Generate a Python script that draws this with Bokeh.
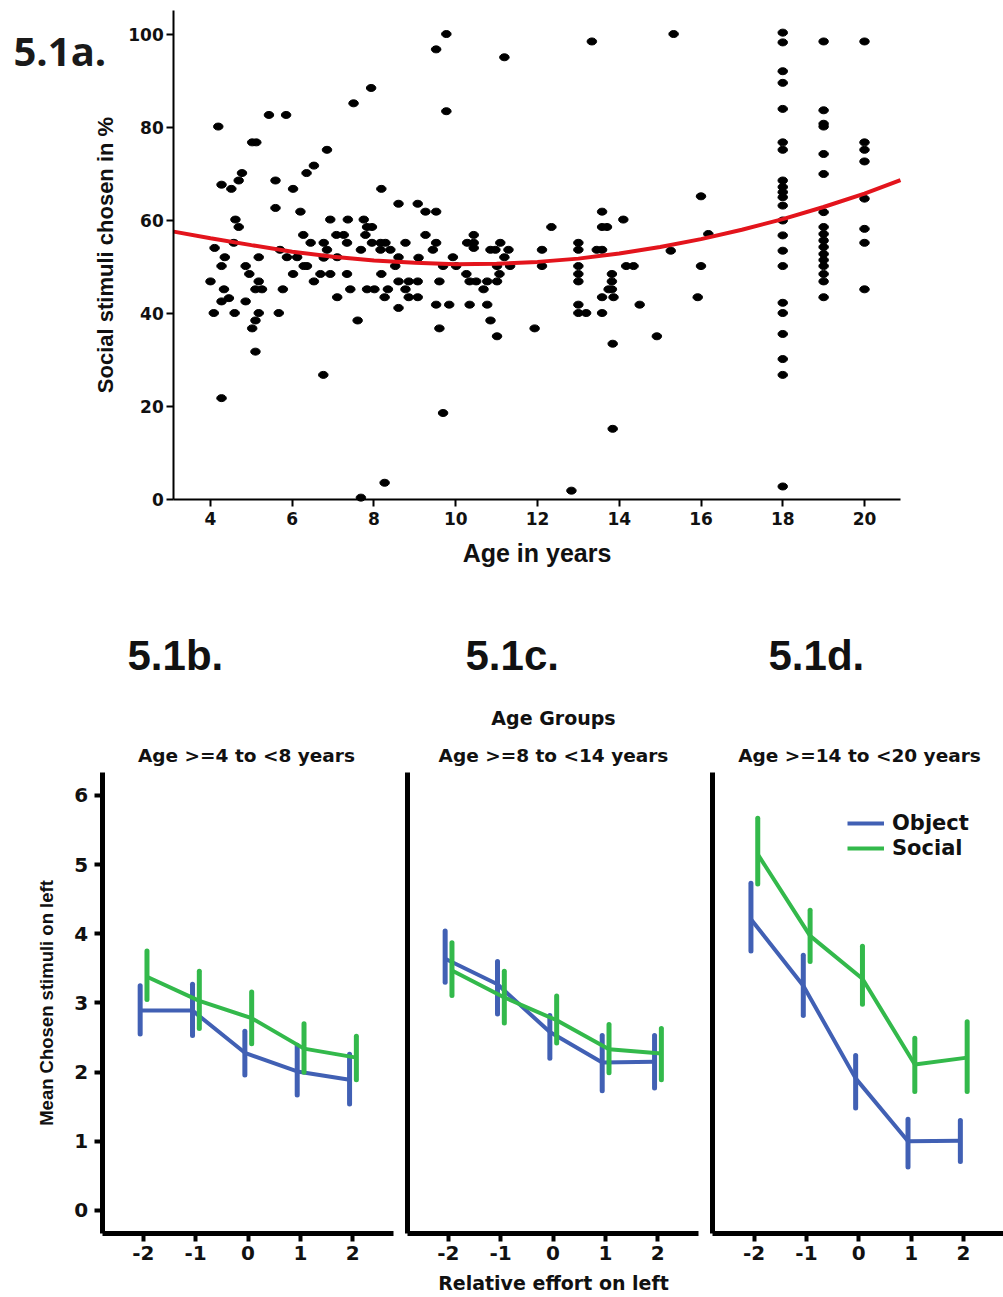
from bokeh.plotting import figure
from bokeh.layouts import column, row
from bokeh.models import Label, Legend, LegendItem, FixedTicker, Range1d
from bokeh.embed import file_html
from bokeh.resources import INLINE

# ---------------- 5.1a scatter data ----------------
age = [4.19, 4.27, 4.51, 4.69, 4.77, 5.02, 5.12, 5.43, 5.85, 5.59, 5.59, 6.02, 6.2, 6.35, 6.53, 6.85,
       7.5, 7.93, 8.18, 8.6, 9.07, 4.61, 4.69, 4.57, 4.1, 4.35, 5.18, 5.7, 6.27, 6.45, 6.93, 6.77,
       6.85, 7.08, 7.26, 7.36, 7.34, 7.75, 7.83, 7.95, 7.79, 7.95, 7.68, 8.16, 8.28, 8.16, 8.4, 8.77,
       8.6, 5.87, 6.12, 7.1,
       4.27, 4.0, 4.33, 4.27, 4.45, 4.08, 4.59, 4.86, 4.95, 4.86, 5.18, 5.1, 5.26, 5.18, 5.1, 5.02,
       5.1, 4.27, 5.67, 5.77, 6.02, 6.28, 6.36, 6.53, 6.69, 6.93, 6.77, 7.1, 6.76, 7.34, 7.42, 7.6,
       7.83, 8.01, 8.18, 8.26, 8.34, 8.52, 8.6, 8.6, 8.77, 8.85, 8.85, 9.07, 9.07, 9.09, 8.26, 7.68,
       9.77, 9.52, 11.19, 13.33, 9.77, 9.26, 9.52, 9.26, 9.52, 9.44, 9.93, 10.44, 10.28, 10.44, 10.44,
       11.09, 10.85, 10.97, 11.29, 11.19, 12.11, 12.34, 13.0, 13.0, 13.45, 13.58, 13.58, 13.58, 13.7, 14.1,
       9.69, 10.01, 9.6, 9.52, 9.84, 9.6, 9.69, 10.26, 10.34, 10.5, 10.34, 10.68, 10.77, 11.01, 11.07,
       11.01, 11.33, 10.77, 10.85, 11.01, 12.11, 11.93, 13.0, 13.0, 13.0, 13.0, 13.0, 13.19, 12.83,
       13.58, 13.58, 13.82, 13.82, 13.82, 13.74, 13.86, 13.84, 13.84, 14.17, 14.35, 14.5,
       15.33, 16.0, 16.18, 15.26, 16.0, 15.92, 14.92,
       18, 18, 18, 18, 18, 18, 18, 18, 18, 18, 18, 18, 18, 18, 18, 18, 18, 18, 18, 18, 18, 18,
       19, 19, 19, 19, 19, 19, 19, 19, 19, 19, 19, 19, 19, 19, 19, 19, 19,
       20, 20, 20, 20, 20, 20, 20, 20]
social_pct = [80.2, 67.7, 66.8, 68.6, 70.2, 76.8, 76.8, 82.7, 82.7, 68.6, 62.7, 66.8, 61.9, 70.2, 71.8, 75.2,
              85.2, 88.5, 66.8, 63.6, 63.6, 60.2, 58.6, 55.2, 54.1, 52.1, 52.1, 53.7, 56.9, 55.2, 60.2, 55.2,
              53.7, 56.9, 56.9, 60.2, 55.2, 60.2, 58.6, 58.6, 56.9, 55.2, 53.7, 55.2, 55.2, 53.7, 53.7, 55.2,
              52.1, 52.1, 52.1, 52.1,
              50.2, 46.9, 45.2, 42.6, 43.3, 40.1, 40.1, 50.2, 48.5, 42.6, 46.9, 45.2, 45.2, 40.1, 38.5, 36.8,
              31.8, 21.8, 40.1, 45.2, 48.5, 50.2, 50.2, 46.9, 48.5, 48.5, 52.0, 43.5, 26.8, 48.5, 45.2, 38.5,
              45.2, 45.2, 48.5, 43.5, 45.2, 50.2, 46.9, 41.2, 45.2, 46.9, 43.5, 46.9, 43.5, 52.0, 3.6, 0.4,
              100.1, 96.8, 95.1, 98.5, 83.5, 61.9, 61.9, 56.9, 55.2, 53.7, 52.1, 56.9, 55.2, 55.2, 54.1,
              55.2, 53.7, 53.7, 53.7, 52.1, 53.7, 58.6, 55.2, 53.7, 53.7, 53.7, 61.9, 58.6, 58.6, 60.2,
              50.2, 50.2, 46.9, 41.9, 41.9, 36.8, 18.6, 48.5, 46.9, 46.9, 41.9, 45.2, 46.9, 46.9, 48.5,
              50.2, 50.2, 41.9, 38.5, 35.1, 50.2, 36.8, 50.2, 48.5, 46.9, 41.9, 40.1, 40.1, 1.9,
              43.5, 40.1, 48.5, 46.9, 45.2, 45.2, 43.5, 33.5, 15.2, 50.2, 50.2, 41.9,
              100.1, 65.2, 57.1, 53.5, 50.2, 43.5, 35.1,
              100.4, 98.3, 92.1, 89.6, 84.0, 76.8, 75.2, 68.6, 67.2, 66.1, 65.0, 63.2, 60.0, 56.8, 53.5, 50.2,
              42.3, 40.1, 35.6, 30.2, 26.8, 2.8,
              98.5, 83.7, 80.8, 80.2, 74.3, 70.0, 61.8, 58.6, 57.1, 55.7, 54.3, 52.8, 51.5, 50.2, 48.5, 46.9, 43.5,
              98.5, 76.8, 75.2, 72.7, 64.7, 58.2, 55.2, 45.2]

# fitted (quadratic) curve
fit_age = [3.1, 4, 5, 6, 7, 8, 9, 10, 11, 12, 13, 14, 15, 16, 17, 18, 19, 20, 20.88]
fit_pct = [57.6, 56.2, 54.7, 53.3, 52.2, 51.4, 50.9, 50.6, 50.7, 51.1, 51.8, 52.9, 54.3, 56.0, 58.0, 60.3, 62.9, 65.8, 68.7]

age_ticks = [4, 6, 8, 10, 12, 14, 16, 18, 20]
pct_ticks = [0, 20, 40, 60, 80, 100]

# ---------------- 5.1b-d panel data ----------------
effort = [-2, -1, 0, 1, 2]
effort_labels = {-2: "-2", -1: "-1", 0: "0", 1: "1", 2: "2"}
mean_ticks = [0, 1, 2, 3, 4, 5, 6]
group_titles = ["Age >=4 to <8 years", "Age >=8 to <14 years", "Age >=14 to <20 years"]
panel_tags = ["5.1b.", "5.1c.", "5.1d."]

obj_mean_a = [2.89, 2.89, 2.28, 2.01, 1.89]
obj_lo_a = [2.55, 2.53, 1.96, 1.67, 1.54]
obj_hi_a = [3.25, 3.27, 2.59, 2.39, 2.26]
soc_mean_a = [3.38, 3.03, 2.78, 2.34, 2.21]
soc_lo_a = [3.05, 2.63, 2.41, 2.00, 1.89]
soc_hi_a = [3.75, 3.46, 3.16, 2.70, 2.52]

obj_mean_b = [3.64, 3.27, 2.58, 2.14, 2.15]
obj_lo_b = [3.30, 2.84, 2.20, 1.73, 1.77]
obj_hi_b = [4.04, 3.60, 2.82, 2.53, 2.53]
soc_mean_b = [3.47, 3.08, 2.75, 2.33, 2.27]
soc_lo_b = [3.11, 2.71, 2.42, 1.99, 1.89]
soc_hi_b = [3.87, 3.46, 3.10, 2.69, 2.63]

obj_mean_c = [4.21, 3.25, 1.91, 1.00, 1.01]
obj_lo_c = [3.75, 2.82, 1.48, 0.63, 0.71]
obj_hi_c = [4.73, 3.69, 2.24, 1.32, 1.30]
soc_mean_c = [5.15, 3.97, 3.35, 2.11, 2.21]
soc_lo_c = [4.72, 3.60, 2.98, 1.72, 1.72]
soc_hi_c = [5.67, 4.34, 3.82, 2.49, 2.73]

BLUE = "#4160b4"
GREEN = "#33b94b"
RED = "#e3141c"
INK = "#111111"

# ---------------- top scatter (frame = whole canvas, axes at fixed locations) ----------------
TOP_W, TOP_H = 1003, 600
top = figure(width=TOP_W, height=TOP_H, x_range=Range1d(-1.1376, 23.4006), y_range=Range1d(-21.72, 107.31),
             output_backend="svg", toolbar_location=None, min_border=0)
top.outline_line_color = None
top.xgrid.visible = False
top.ygrid.visible = False
xa, ya = top.xaxis[0], top.yaxis[0]
xa.fixed_location = 0
xa.bounds = (3.1, 20.88)
ya.fixed_location = 3.1
ya.bounds = (0, 105.2)
xa.ticker = FixedTicker(ticks=age_ticks)
ya.ticker = FixedTicker(ticks=pct_ticks)
for ax in (xa, ya):
    ax.axis_line_width = 2
    ax.axis_line_color = "black"
    ax.major_tick_line_width = 2
    ax.major_tick_out = 7
    ax.major_tick_in = 0
    ax.minor_tick_line_color = None
    ax.major_label_text_font = "DejaVu Sans"
    ax.major_label_text_font_style = "bold"
    ax.major_label_text_font_size = "17px"
    ax.major_label_text_color = INK
    ax.axis_label_text_font = "Liberation Sans"
    ax.axis_label_text_font_style = "bold"
    ax.axis_label_text_color = INK
xa.axis_label = "Age in years"
xa.axis_label_text_font_size = "25px"
xa.major_label_standoff = 5
xa.axis_label_standoff = 11
ya.axis_label = "Social stimuli chosen in %"
ya.axis_label_text_font_size = "22px"
ya.major_label_standoff = 3
ya.axis_label_standoff = 7

top.ellipse(x=age, y=social_pct, width=9.5, height=7, width_units="screen", height_units="screen",
            fill_color="black", line_color="black")
top.line(fit_age, fit_pct, line_color=RED, line_width=4)
top.add_layout(Label(x=13, y=TOP_H - 50, x_units="screen", y_units="screen", text="5.1a.",
                     text_font="Open Sans", text_font_style="bold", text_font_size="40px",
                     text_color="#1a1a1a", text_baseline="middle"))

# ---------------- bottom panels (frame = whole canvas, axes at fixed locations) ----------------
panel_data = [
    (obj_mean_a, obj_lo_a, obj_hi_a, soc_mean_a, soc_lo_a, soc_hi_a),
    (obj_mean_b, obj_lo_b, obj_hi_b, soc_mean_b, soc_lo_b, soc_hi_b),
    (obj_mean_c, obj_lo_c, obj_hi_c, soc_mean_c, soc_lo_c, soc_hi_c),
]
P_H = 697
widths = [400, 305, 298]
x_ranges = [(-4.728, 2.913), (-2.913, 2.913), (-2.928, 2.764)]
x_bounds = [(-2.785, 2.785), (-2.785, 2.785), (-2.785, 2.764)]
Y_LO, Y_HI = -0.3325, 6.332
tag_x = [127, 65, 63]
title_x = [246, 153, 154]

panels = []
for i in range(3):
    om, olo, ohi, sm, slo, shi = panel_data[i]
    p = figure(width=widths[i], height=P_H, x_range=Range1d(*x_ranges[i]), y_range=Range1d(-1.258, 8.819),
               output_backend="svg", toolbar_location=None, min_border=0)
    p.outline_line_color = None
    p.xgrid.visible = False
    p.ygrid.visible = False
    xa, ya = p.xaxis[0], p.yaxis[0]
    xa.fixed_location = Y_LO
    xa.bounds = x_bounds[i]
    ya.fixed_location = x_bounds[i][0]
    ya.bounds = (Y_LO, Y_HI)
    xa.ticker = FixedTicker(ticks=effort)
    xa.major_label_overrides = effort_labels
    for ax in (xa, ya):
        ax.axis_line_width = 5
        ax.axis_line_color = "black"
        ax.major_tick_line_width = 4
        ax.major_tick_out = 8
        ax.major_tick_in = 0
        ax.minor_tick_line_color = None
        ax.major_label_text_font = "DejaVu Sans"
        ax.major_label_text_font_style = "bold"
        ax.major_label_text_font_size = "20px"
        ax.major_label_text_color = INK
    xa.major_label_standoff = 5
    if i == 0:
        ya.ticker = FixedTicker(ticks=mean_ticks)
        ya.major_label_standoff = 6
        ya.axis_label = "Mean Chosen stimuli on left"
        ya.axis_label_text_font = "Liberation Sans"
        ya.axis_label_text_font_style = "bold"
        ya.axis_label_text_font_size = "18.5px"
        ya.axis_label_text_color = INK
        ya.axis_label_standoff = 15
    else:
        ya.ticker = FixedTicker(ticks=[])
        ya.major_tick_line_color = None

    xo = [e - 0.06 for e in effort]
    xs = [e + 0.07 for e in effort]
    bl = p.line(xo, om, line_color=BLUE, line_width=4)
    p.segment(xo, olo, xo, ohi, line_color=BLUE, line_width=5, line_cap="round")
    gl = p.line(xs, sm, line_color=GREEN, line_width=4)
    p.segment(xs, slo, xs, shi, line_color=GREEN, line_width=5, line_cap="round")

    p.add_layout(Label(x=title_x[i], y=P_H - 155, x_units="screen", y_units="screen", text=group_titles[i],
                       text_font="DejaVu Sans", text_font_style="bold", text_font_size="18.5px",
                       text_color=INK, text_align="center", text_baseline="middle"))
    p.add_layout(Label(x=tag_x[i], y=P_H - 55, x_units="screen", y_units="screen", text=panel_tags[i],
                       text_font="Liberation Sans", text_font_style="bold", text_font_size="42px",
                       text_color=INK, text_baseline="middle"))
    if i == 1:
        p.add_layout(Label(x=153, y=P_H - 117, x_units="screen", y_units="screen", text="Age Groups",
                           text_font="DejaVu Sans", text_font_style="bold", text_font_size="19px",
                           text_color=INK, text_align="center", text_baseline="middle"))
        p.add_layout(Label(x=153, y=15, x_units="screen", y_units="screen", text="Relative effort on left",
                           text_font="DejaVu Sans", text_font_style="bold", text_font_size="19px",
                           text_color=INK, text_align="center", text_baseline="middle"))
    if i == 2:
        legend = Legend(items=[LegendItem(label="Object", renderers=[bl]),
                               LegendItem(label="Social", renderers=[gl])],
                        location=(142, 437), orientation="vertical",
                        glyph_width=37, glyph_height=20, label_standoff=8, padding=0, margin=0, spacing=1,
                        border_line_alpha=0, background_fill_alpha=0,
                        label_text_font="DejaVu Sans", label_text_font_style="bold",
                        label_text_font_size="21px", label_text_color=INK)
        p.add_layout(legend)
    panels.append(p)

layout = column(top, row(*panels, spacing=0), spacing=0)
open("out.html", "w").write(file_html(layout, INLINE))
